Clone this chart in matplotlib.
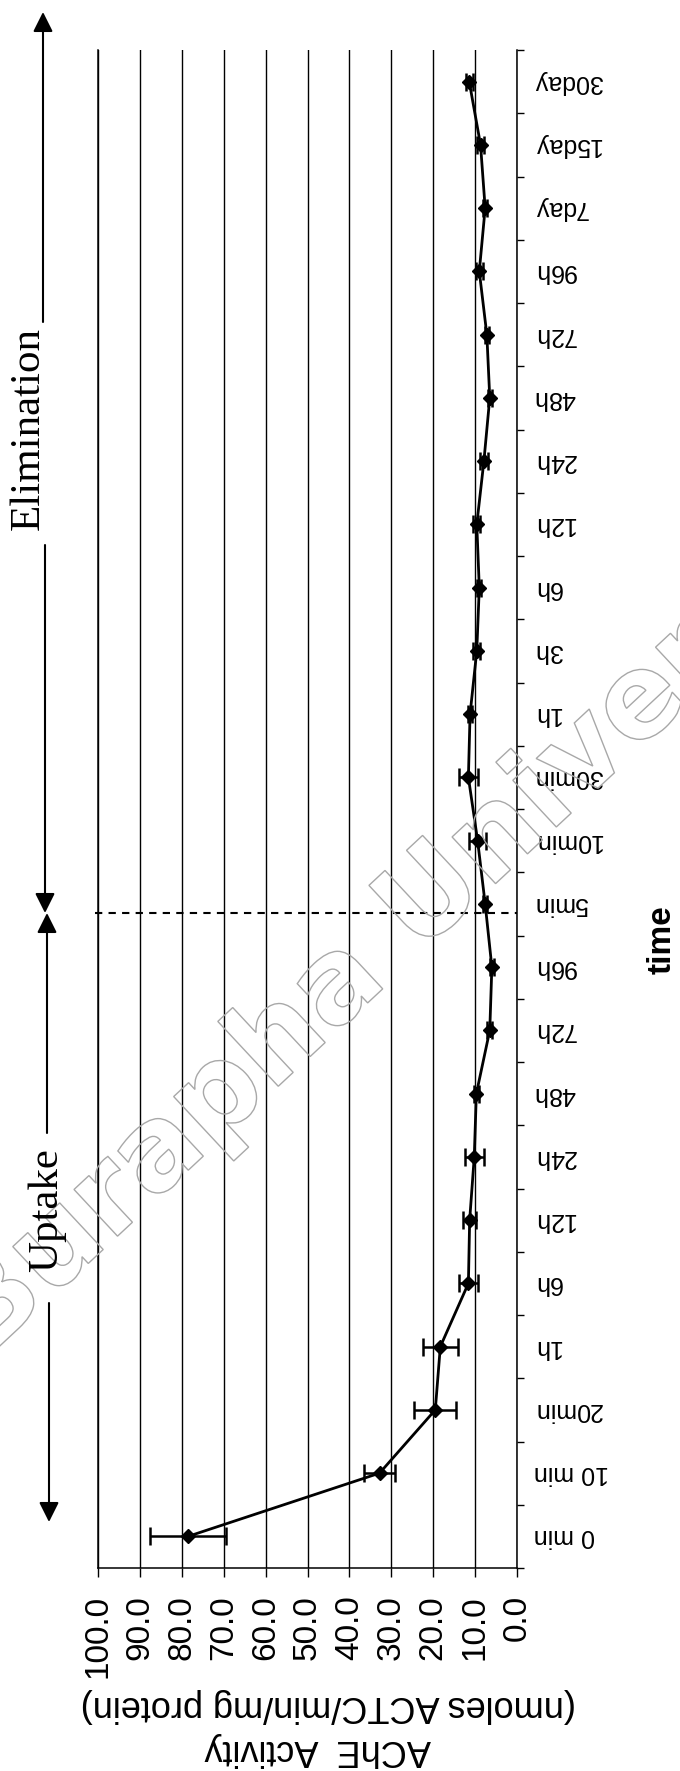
import numpy as np
import matplotlib
matplotlib.use("Agg")
import matplotlib.pyplot as plt
import matplotlib.patheffects as pe
from matplotlib.patches import FancyArrowPatch

# AChE activity (nmoles ACTC/min/mg protein), mean and SD per sampling time
uptake_times = ['0 min', '10 min', '20min', '1h', '6h', '12h', '24h', '48h', '72h', '96h']
uptake_mean = [78.5, 32.8, 19.5, 18.3, 11.6, 11.3, 10.2, 9.7, 6.5, 6.0]
uptake_sd = [9.0, 3.6, 5.0, 4.1, 2.2, 1.5, 2.3, 0.6, 0.6, 0.5]

elim_times = ['5min', '10min', '30min', '1h', '3h', '6h', '12h', '24h',
              '48h', '72h', '96h', '7day', '15day', '30day']
elim_mean = [7.6, 9.4, 11.6, 11.2, 9.6, 9.0, 9.6, 7.9, 6.5, 7.2, 9.0, 7.6, 8.7, 11.4]
elim_sd = [0.5, 2.0, 2.2, 0.5, 0.8, 0.5, 0.8, 1.0, 0.5, 0.5, 0.8, 0.5, 0.8, 0.8]

activity_ticks = np.arange(0, 101, 10)

labels = uptake_times + elim_times
means = uptake_mean + elim_mean
sds = uptake_sd + elim_sd
pos = np.arange(len(labels))

W, H = 680, 1771
sans = 'Liberation Sans'
serif = 'Liberation Serif'


def fx(x):
    return x / W


def fy(y):
    return 1 - y / H


fig = plt.figure(figsize=(W / 100, H / 100), dpi=100)
ax = fig.add_axes([fx(98), fy(1568), fx(517) - fx(98), fy(50) - fy(1568)])

# page watermark, outline only
fig.text(fx(425), fy(905), 'Burapha University', fontsize=84, fontweight='bold',
         family='DejaVu Sans', rotation=43, ha='center', va='center',
         rotation_mode='anchor', zorder=0,
         path_effects=[pe.PathPatchEffect(edgecolor='#a8a8a8', facecolor='none', linewidth=1.0)])

ax.errorbar(means, pos, xerr=sds, fmt='-D', color='black', ms=7.5, lw=2.0,
            elinewidth=1.8, capsize=6.5, capthick=1.8, zorder=5)

ax.set_xlim(100, 0)
ax.set_ylim(-0.5, len(labels) - 0.5)
ax.set_xticks(activity_ticks)
ax.set_xticklabels([f'{v:.1f}' for v in activity_ticks], rotation=90,
                   fontsize=24, family=sans)
ax.grid(axis='x', color='black', lw=1.0)
ax.set_axisbelow(True)
ax.tick_params(axis='x', direction='out', length=6.5, width=1.0, pad=13)

ax.yaxis.tick_right()
ax.set_yticks(pos)
ax.set_yticklabels(labels, rotation=180, fontsize=18, family=sans, va='center')
ax.set_yticks(np.arange(-0.5, len(labels)), minor=True)
ax.tick_params(axis='y', which='major', length=0, pad=12)
ax.tick_params(axis='y', which='minor', direction='out', length=5, width=1.0)

ax.spines['top'].set_visible(False)
for s in ('left', 'right', 'bottom'):
    ax.spines[s].set_linewidth(1.1)

# boundary between the uptake and elimination phases
ax.plot([100.8, 0], [9.85, 9.85], color='black', lw=1.5, dashes=(3.5, 3),
        clip_on=False, zorder=4)

# axis titles
fig.text(fx(328), fy(1705), '(nmoles ACTC/min/mg protein)', fontsize=26,
         family=sans, rotation=180, ha='center', va='center')
fig.text(fx(318), fy(1750), 'AChE  Activity', fontsize=26,
         family=sans, rotation=180, ha='center', va='center')
fig.text(fx(662), fy(940), 'time', fontsize=24, fontweight='bold',
         family=sans, rotation=90, ha='center', va='center')

# phase annotations with arrows
fig.text(fx(29), fy(428), 'Elimination', fontsize=31, family=serif,
         rotation=90, ha='center', va='center')
fig.text(fx(47), fy(1210), 'Uptake', fontsize=31, family=serif,
         rotation=90, ha='center', va='center')

arrow = dict(arrowstyle='-|>,head_length=1.2,head_width=0.6', color='black',
             lw=1.5, mutation_scale=10, shrinkA=0, shrinkB=0)
segments = [((43, 322), (43, 12)),
            ((45, 545), (45, 913)),
            ((47, 1133), (47, 913)),
            ((49, 1303), (49, 1522))]
for (x0, y0), (x1, y1) in segments:
    fig.add_artist(FancyArrowPatch((fx(x0), fy(y0)), (fx(x1), fy(y1)),
                                   transform=fig.transFigure, **arrow))

fig.savefig('out.png', dpi=100)
